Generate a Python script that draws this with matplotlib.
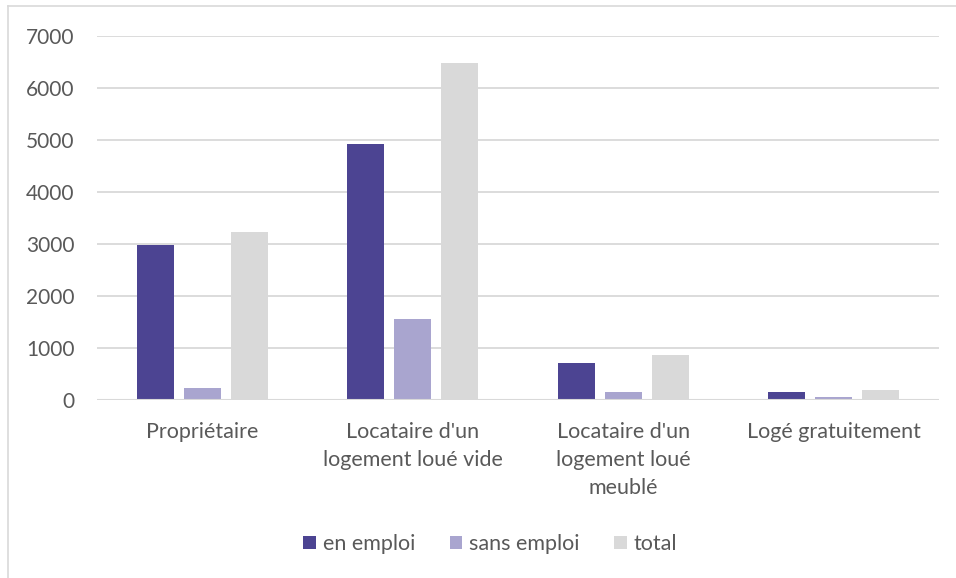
import matplotlib
matplotlib.use("Agg")
import matplotlib.pyplot as plt
import numpy as np
from matplotlib.patches import Patch

categories = ["Propriétaire", "Locataire d'un\nlogement loué vide",
              "Locataire d'un\nlogement loué\nmeublé", "Logé gratuitement"]
series_names = ["en emploi", "sans emploi", "total"]
en_emploi = [2980, 4920, 720, 150]
sans_emploi = [230, 1550, 150, 55]
total = [3225, 6470, 870, 200]
yticks = [0, 1000, 2000, 3000, 4000, 5000, 6000, 7000]

colors = ["#4c4492", "#a9a5cf", "#d9d9d9"]
text_color = "#595959"
plt.rcParams['font.family'] = ['Lato', 'DejaVu Sans']

W, H = 956, 578
fig = plt.figure(figsize=(W / 100, H / 100), dpi=100)
fig.patch.set_facecolor("white")

# outer chart-area border (left and top visible)
fig.add_artist(plt.Line2D([8 / W, 8 / W], [0, 1 - 6 / H], color="#d9d9d9", lw=1.2,
                          transform=fig.transFigure))
fig.add_artist(plt.Line2D([8 / W, 1], [1 - 6 / H, 1 - 6 / H], color="#d9d9d9", lw=1.2,
                          transform=fig.transFigure))

ax = fig.add_axes([97 / W, (H - 400) / H, (939 - 97) / W, (400 - 35.5) / H])
x = np.arange(len(categories))
width = 0.176
step = 0.223
for i, (vals, name) in enumerate(zip([en_emploi, sans_emploi, total], series_names)):
    ax.bar(x + (i - 1) * step, vals, width=width, color=colors[i], label=name, zorder=3)

ax.set_xlim(-0.5, len(categories) - 0.5)
ax.set_ylim(0, 7000)
ax.set_yticks(yticks)
ax.set_yticklabels([str(v) for v in yticks])
ax.set_xticks(x)
ax.set_xticklabels(categories, linespacing=1.5)
ax.grid(axis="y", color="#d9d9d9", lw=1.3, zorder=0)
for s in ax.spines.values():
    s.set_visible(False)
ax.axhline(0, color="#d9d9d9", lw=1.5, zorder=4)
ax.tick_params(axis="y", length=0, pad=16, labelsize=15, labelcolor=text_color)
ax.tick_params(axis="x", length=0, pad=16, labelsize=15.5, labelcolor=text_color)

handles = [Patch(facecolor=c, label=n) for c, n in zip(colors, series_names)]
fig.legend(handles=handles, loc="center", bbox_to_anchor=(490 / W, (H - 544) / H),
           ncol=3, frameon=False, fontsize=15.5, labelcolor=text_color,
           handlelength=0.6, handleheight=0.6, handletextpad=0.3, columnspacing=1.6)

fig.savefig("out.png", dpi=100, facecolor="white")
